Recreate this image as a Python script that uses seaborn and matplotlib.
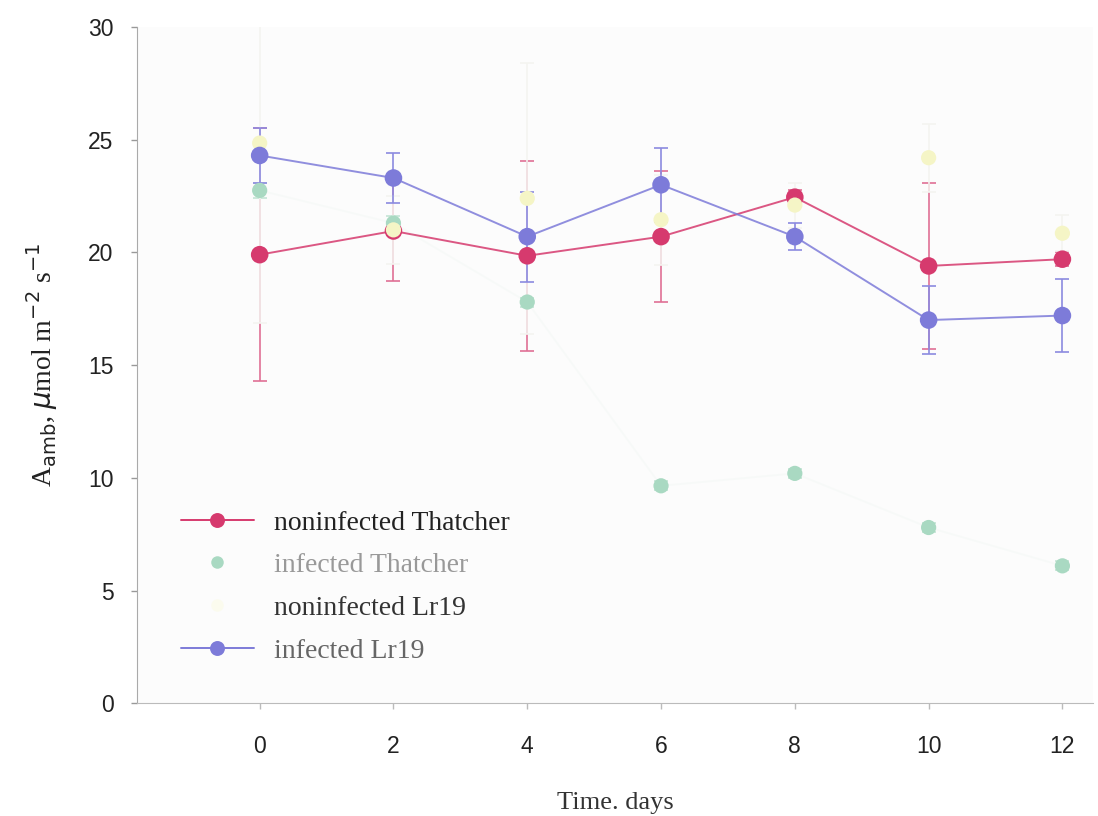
import numpy as np
import pandas as pd
import matplotlib
matplotlib.use("Agg")
import matplotlib.pyplot as plt
import seaborn as sns
from matplotlib.lines import Line2D

# Net photosynthesis at ambient CO2 over the infection time course
days = [0, 2, 4, 6, 8, 10, 12]
series_names = ["noninfected Thatcher", "infected Thatcher", "noninfected Lr19", "infected Lr19"]

nonInf_thatcher = [19.9, 20.95, 19.85, 20.7, 22.45, 19.4, 19.7]
nonInf_thatcher_err = [5.6, 2.2, 4.2, 2.9, 0.3, 3.7, 0.3]

inf_thatcher = [22.75, 21.3, 17.8, 9.65, 10.2, 7.8, 6.1]
inf_thatcher_err = [0.35, 0.3, 0.2, 0.2, 0.2, 0.2, 0.2]

nonInf_lr19 = [24.85, 21.0, 22.4, 21.45, 22.1, 24.2, 20.85]
nonInf_lr19_err = [8.0, 1.5, 6.0, 2.0, 1.0, 1.5, 0.8]

inf_lr19 = [24.3, 23.3, 20.7, 23.0, 20.7, 17.0, 17.2]
inf_lr19_err = [1.2, 1.1, 2.0, 1.65, 0.6, 1.5, 1.6]

values = [nonInf_thatcher, inf_thatcher, nonInf_lr19, inf_lr19]
errors = [nonInf_thatcher_err, inf_thatcher_err, nonInf_lr19_err, inf_lr19_err]
colors = ["#d63a6e", "#a9d9c2", "#f5f5c6", "#7d7bd9"]
line_alpha = [0.85, 0.06, 0.0, 0.85]
marker_size = [160, 120, 120, 160]
err_colors = ["#e07095", "#c4e5d5", "#f4f4f0", "#8c8ae0"]

df = pd.DataFrame({
    "day": np.tile(days, len(series_names)),
    "value": np.concatenate(values),
    "series": np.repeat(series_names, len(days)),
})

sns.set_style("white")
plt.rcParams["font.family"] = ["Liberation Sans", "DejaVu Sans"]

fig = plt.figure(figsize=(10.98, 8.16), dpi=100)
ax = fig.add_axes([0.125, 0.138, 0.87, 0.829])
ax.set_facecolor("#fcfcfc")

# error bars first so markers sit on top
for vals, errs, ec in zip(values, errors, err_colors):
    ax.errorbar(days, vals, yerr=errs, fmt="none", ecolor=ec, elinewidth=1.2,
                capsize=5, capthick=1.2, zorder=2)

for name, col, la, ms in zip(series_names, colors, line_alpha, marker_size):
    sub = df[df["series"] == name]
    if la > 0:
        sns.lineplot(data=sub, x="day", y="value", ax=ax, color=col, linewidth=1.4,
                     alpha=la, label="_nolegend_", zorder=3)
    sns.scatterplot(data=sub, x="day", y="value", ax=ax, color=col, s=ms,
                    edgecolor="none", label="_nolegend_", zorder=4)

# legend handles
handles = []
for col, la, ms in zip(colors, line_alpha, marker_size):
    handles.append(Line2D([0], [0], color=col, alpha=1.0 if la > 0.5 else 0.0,
                          linewidth=1.4, marker="o", markersize=np.sqrt(ms) * 0.85,
                          markerfacecolor=col, markeredgecolor="none"))
handles[1] = Line2D([0], [0], color="none", marker="o", markersize=9,
                    markerfacecolor=colors[1], markeredgecolor="none")
handles[2] = Line2D([0], [0], color="none", marker="o", markersize=9,
                    markerfacecolor="#fbfbee", markeredgecolor="none")
leg = ax.legend(handles, series_names, loc="lower left", bbox_to_anchor=(0.02, 0.022),
                frameon=False, handlelength=2.6, handletextpad=0.75, labelspacing=0.62,
                prop={"family": "Liberation Serif", "size": 20})
text_cols = ["#222222", "#999999", "#333333", "#666666"]
for t, c in zip(leg.get_texts(), text_cols):
    t.set_color(c)

ax.set_xlim(-1.83, 12.45)
ax.set_ylim(0, 30)
ax.set_xticks(days)
ax.set_yticks([0, 5, 10, 15, 20, 25, 30])
ax.tick_params(axis="both", labelsize=16.5, colors="#222222", length=4, width=1,
               direction="out", bottom=True, left=True)
ax.tick_params(axis="x", pad=19, color="#bbbbbb")
ax.tick_params(axis="y", pad=13, color="#999999")

for side in ["top", "right"]:
    ax.spines[side].set_visible(False)
ax.spines["left"].set_color("#aaaaaa")
ax.spines["bottom"].set_color("#bbbbbb")

ax.set_xlabel("Time. days", family="Liberation Serif", fontsize=19, labelpad=24,
              color="#333333")
ax.set_ylabel(r"A$_{\mathrm{amb}}$, $\mu$mol m$^{-2}$ s$^{-1}$", family="Liberation Serif",
              fontsize=20, labelpad=20, color="#222222")

fig.savefig("out.png", dpi=100, facecolor="white")
